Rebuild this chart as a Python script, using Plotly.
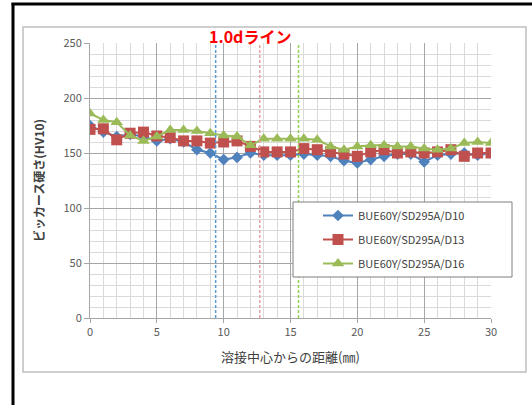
import plotly.graph_objects as go

distance = list(range(0, 31))
d10 = [175, 169, 165, 167, 165, 161, 163, 160, 153, 150, 144, 146, 150, 148, 148, 148,
       149, 148, 147, 143, 141, 144, 147, 149, 149, 142, 148, 149, 150, 148, 150]
d13 = [171.5, 172, 162, 168, 169, 165.5, 164, 161, 161, 159, 160, 161, 156, 151, 151, 151,
       154, 153, 151, 149, 147, 151, 153, 150, 151, 150, 151, 153, 147, 150, 150]
d16 = [186, 180, 178, 166, 161, 165, 171, 171, 170, 168, 166, 165, 157, 163, 163, 163,
       163, 162, 156, 153, 156, 157, 157, 156, 156, 154, 153, 154, 159, 160, 159]
series_names = ["BUE60Y/SD295A/D10", "BUE60Y/SD295A/D13", "BUE60Y/SD295A/D16"]
line_positions = [9.4, 12.7, 15.6]
x_ticks = [0, 5, 10, 15, 20, 25, 30]
y_ticks = [0, 50, 100, 150, 200, 250]

colors = ["#4F81BD", "#C0504D", "#9BBB59"]
symbols = ["diamond", "square", "triangle-up"]
sizes = [9, 11, 11]
dash_colors = ["#5B9BD5", "#E6A3A3", "#92D050"]

W, H = 532, 405
ML, MT, PW, PH = 90, 43, 401, 275


def px(x):
    return (x - ML) / PW


def py(y):
    return (MT + PH - y) / PH


fig = go.Figure()
for i, (name, vals) in enumerate(zip(series_names, [d10, d13, d16])):
    fig.add_trace(go.Scatter(
        x=distance, y=vals, name=name, mode="lines+markers",
        legendgroup=f"g{i}",
        line=dict(color=colors[i], width=2),
        marker=dict(symbol=symbols[i], size=sizes[i], color=colors[i]),
    ))

shapes = []
# outer black frame (left and top edges)
shapes.append(dict(type="line", xref="paper", yref="paper",
                   x0=px(13), x1=px(13), y0=py(405), y1=py(3),
                   line=dict(color="black", width=3), layer="above"))
shapes.append(dict(type="line", xref="paper", yref="paper",
                   x0=px(11.5), x1=px(532), y0=py(4), y1=py(4),
                   line=dict(color="black", width=3), layer="above"))
# inner gray chart box
shapes.append(dict(type="rect", xref="paper", yref="paper",
                   x0=px(23), x1=px(526), y0=py(372), y1=py(27),
                   line=dict(color="#BFBFBF", width=1.5), layer="below"))
# 1.0d dashed lines
for xp, c in zip(line_positions, dash_colors):
    shapes.append(dict(type="line", xref="x", yref="y", x0=xp, x1=xp, y0=0, y1=250,
                       line=dict(color=c, width=1.5, dash="3px,2px")))
# legend box
shapes.append(dict(type="rect", xref="paper", yref="paper",
                   x0=px(293), x1=px(512), y0=py(277), y1=py(202),
                   line=dict(color="#7F7F7F", width=1), fillcolor="white", layer="above"))

fig.update_layout(
    width=W, height=H,
    margin=dict(l=ML, r=W - ML - PW, t=MT, b=H - MT - PH),
    paper_bgcolor="white", plot_bgcolor="white",
    font=dict(family="Noto Sans CJK JP, Noto Sans, sans-serif", size=11, color="#404040"),
    shapes=shapes,
    showlegend=True,
    legend=dict(x=px(318), y=py(201), xanchor="left", yanchor="top",
                bgcolor="rgba(0,0,0,0)", borderwidth=0, tracegroupgap=5,
                font=dict(size=11, color="#404040")),
    annotations=[dict(text="<b>1.0dライン</b>", x=px(250), y=py(36),
                      xref="paper", yref="paper", showarrow=False,
                      xanchor="center", yanchor="middle",
                      font=dict(size=16, color="#FF0000"))],
)
fig.update_xaxes(
    range=[0, 30], tickvals=x_ticks, ticks="outside", ticklen=4, tickcolor="#A6A6A6",
    showgrid=True, gridcolor="#A6A6A6", gridwidth=1, automargin=False,
    minor=dict(dtick=1, showgrid=True, gridcolor="#DADADA", gridwidth=1),
    showline=True, linecolor="#A6A6A6", zeroline=False,
    tickfont=dict(size=11, color="#595959"),
    title=dict(text="溶接中心からの距離(㎜)", standoff=14, font=dict(size=13, color="#404040")),
)
fig.update_yaxes(
    range=[0, 250], tickvals=y_ticks, ticks="outside", ticklen=5, tickcolor="#A6A6A6",
    showgrid=True, gridcolor="#A6A6A6", gridwidth=1, automargin=False,
    minor=dict(dtick=10, showgrid=True, gridcolor="#DADADA", gridwidth=1),
    showline=True, linecolor="#A6A6A6", zeroline=False,
    tickfont=dict(size=11, color="#595959"),
    title=dict(text="<b>ビッカース硬さ(HV10)</b>", standoff=16, font=dict(size=12, color="#404040")),
)
fig.write_html("out.html", config={"displayModeBar": False},
               post_script="document.body.style.margin='0';")
